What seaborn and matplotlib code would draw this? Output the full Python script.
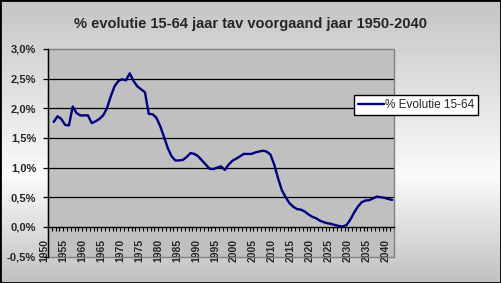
import numpy as np
import pandas as pd
import matplotlib
matplotlib.use("Agg")
import matplotlib.pyplot as plt
import seaborn as sns
from matplotlib.patches import Rectangle
from matplotlib.transforms import ScaledTranslation
from matplotlib.ticker import FuncFormatter

# ---------------- data ----------------
title = "% evolutie 15-64 jaar tav voorgaand jaar 1950-2040"
series_name = "% Evolutie 15-64"
years = list(range(1951, 2041))
values = [
    1.77, 1.865, 1.82, 1.72, 1.71, 2.03, 1.92, 1.88, 1.88, 1.88,      # 1951-1960
    1.75, 1.78, 1.82, 1.88, 2.00, 2.20, 2.37, 2.46, 2.49, 2.47,       # 1961-1970
    2.59, 2.46, 2.37, 2.32, 2.27, 1.905, 1.90, 1.84, 1.70, 1.52,      # 1971-1980
    1.33, 1.19, 1.12, 1.12, 1.13, 1.18, 1.245, 1.23, 1.19, 1.12,      # 1981-1990
    1.05, 0.98, 0.975, 1.00, 1.02, 0.96, 1.05, 1.115, 1.15, 1.19,     # 1991-2000
    1.23, 1.23, 1.23, 1.255, 1.27, 1.285, 1.27, 1.22, 1.05, 0.82,     # 2001-2010
    0.62, 0.50, 0.40, 0.34, 0.30, 0.29, 0.26, 0.21, 0.17, 0.145,      # 2011-2020
    0.105, 0.08, 0.06, 0.05, 0.03, 0.015, 0.005, 0.03, 0.12, 0.24,    # 2021-2030
    0.34, 0.415, 0.445, 0.45, 0.48, 0.51, 0.50, 0.49, 0.47, 0.455,    # 2031-2040
]
xtick_years = list(range(1950, 2041, 5))
ytick_values = [-0.5, 0.0, 0.5, 1.0, 1.5, 2.0, 2.5, 3.0]

# ---------------- figure ----------------
sns.set_style("white")
plt.rcParams["font.family"] = ["Liberation Sans", "DejaVu Sans"]

W, H, DPI = 501, 283, 100
fig = plt.figure(figsize=(W / DPI, H / DPI), dpi=DPI)

# gradient background
bg = fig.add_axes([0, 0, 1, 1], zorder=-10)
grad = np.interp(np.arange(H), [0, 175, 283], [0.77, 0.98, 0.75])
bg.imshow(np.repeat(grad[:, None], 2, axis=1), cmap="gray", vmin=0, vmax=1,
          aspect="auto", extent=[0, 1, 0, 1], origin="upper")
bg.axis("off")

left, right = 48 / W, 394 / W
top, bottom = 1 - 49 / H, 1 - 256.5 / H
ax = fig.add_axes([left, bottom, right - left, top - bottom])
ax.set_facecolor("#c0c0c0")

df = pd.DataFrame({"Jaar": years, "Evolutie": values})
sns.lineplot(data=df, x="Jaar", y="Evolutie", ax=ax, color="#000080",
             linewidth=1.7, label=series_name, zorder=5)

ax.set_xlim(1949.5, 2040.5)
ax.set_ylim(-0.5, 3.0)
ax.set_xlabel("")
ax.set_ylabel("")

# gridlines (inner ones)
for v in ytick_values:
    if 0 < v < 3.0:
        ax.axhline(v, color="black", lw=0.9, zorder=1)

# frame
for s in ["top", "right", "bottom"]:
    ax.spines[s].set_visible(False)
ax.add_patch(Rectangle((0, 0), 1, 1, transform=ax.transAxes, fill=False,
                       edgecolor="#808080", lw=1.0, clip_on=False, zorder=2))
ax.spines["left"].set_color("black")
ax.spines["left"].set_linewidth(1.0)
ax.spines["left"].set_zorder(3)
ax.spines["bottom"].set_visible(True)
ax.spines["bottom"].set_position(("data", 0))
ax.spines["bottom"].set_color("black")
ax.spines["bottom"].set_linewidth(1.0)

# y axis
ax.set_yticks(ytick_values)
ax.yaxis.set_major_formatter(FuncFormatter(lambda v, p: f"{v:.1f}%".replace(".", ",")))
ax.tick_params(axis="y", which="major", direction="out", length=3.6, width=0.9,
               color="black", pad=5, labelsize=8, left=True)
for lb in ax.get_yticklabels():
    lb.set_fontweight("bold")

# x axis
ax.set_xticks([y - 0.5 for y in range(1950, 2042)], minor=True)
ax.set_xticks(xtick_years)
ax.set_xticklabels([str(y) for y in xtick_years], rotation=90)
ax.tick_params(axis="x", which="minor", direction="out", length=3.2, width=0.8,
               color="black", bottom=True)
ax.tick_params(axis="x", which="major", length=0, pad=8.4, labelsize=7.5, bottom=True)
off = ScaledTranslation(-6 / DPI, 0, fig.dpi_scale_trans)
for lb in ax.get_xticklabels():
    lb.set_fontweight("bold")
    lb.set_transform(lb.get_transform() + off)

# legend
leg = ax.legend(loc="center left", bbox_to_anchor=(354 / W, 1 - 105 / H),
                bbox_transform=fig.transFigure, frameon=True, fancybox=False,
                edgecolor="black", facecolor="white", framealpha=1,
                fontsize=8.5, handlelength=2.2, handletextpad=0.15,
                borderpad=0.3, borderaxespad=0)
leg.get_frame().set_linewidth(1.0)

# title
fig.text(0.5, 1 - 24 / H, title, ha="center", va="center",
         fontsize=10.5, fontweight="bold")

# outer border
fig.patches.append(Rectangle((0, 0), 1, 1, transform=fig.transFigure,
                             fill=False, edgecolor="black", lw=2))

fig.savefig("out.png", dpi=DPI)
